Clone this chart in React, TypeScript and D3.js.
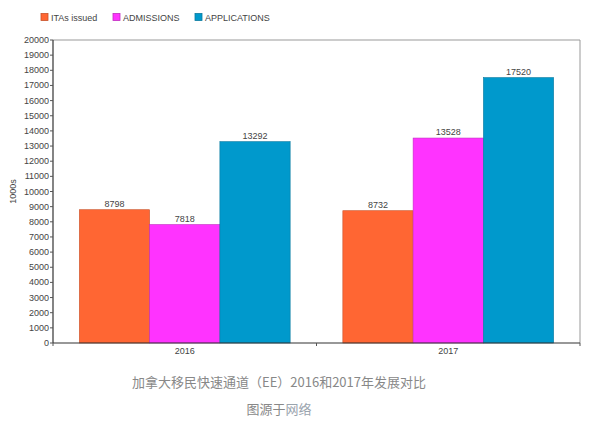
import React from "react";
import * as d3 from "d3";

const categories = ["2016", "2017"];
const seriesNames = ["ITAs issued", "ADMISSIONS", "APPLICATIONS"];
const itasIssued = [8798, 8732];
const admissions = [7818, 13528];
const applications = [13292, 17520];
const yTicks = d3.range(0, 20001, 1000);
const colors = ["#FF6633", "#FF33FF", "#0099CC"];
const strokes = ["#c8522a", "#c02cc0", "#0a7aa0"];

const W = 598;
const H = 429;
const left = 53;
const right = 580;
const top = 40;
const bottom = 343;

export default function App() {
  const series = [itasIssued, admissions, applications];
  const x = d3.scaleBand<string>().domain(categories).range([left, right]).padding(0);
  const groupW = x.bandwidth() * 0.8;
  const xs = d3.scaleBand<string>().domain(seriesNames).range([0, groupW]).padding(0);
  const y = d3.scaleLinear().domain([0, 20000]).range([bottom, top]);
  const font = "'Liberation Sans', Arial, sans-serif";
  const cjk = "'Noto Sans CJK SC', sans-serif";
  const legendX = [41, 113, 195];

  return (
    <svg width={W} height={H} style={{ position: "absolute", left: 0, top: 0, background: "#fff" }}>
      <rect x={0} y={0} width={W} height={H} fill="#fff" />
      {/* legend */}
      {seriesNames.map((s, i) => (
        <g key={s}>
          <rect x={legendX[i]} y={13.5} width={7} height={7} fill={colors[i]} stroke={strokes[i]} strokeWidth={0.8} />
          <text x={legendX[i] + 10} y={20.5} fontFamily={font} fontSize={9} fill="#444">{s}</text>
        </g>
      ))}
      {/* frame */}
      <line x1={left} x2={right} y1={top} y2={top} stroke="#999" strokeWidth={1} />
      <line x1={right} x2={right} y1={top} y2={bottom} stroke="#999" strokeWidth={1} />
      {/* bars */}
      {categories.map((c, ci) => {
        const gx = (x(c) as number) + (x.bandwidth() - groupW) / 2;
        return (
          <g key={c}>
            {series.map((vals, si) => {
              const bx = gx + (xs(seriesNames[si]) as number);
              const by = y(vals[ci]);
              return (
                <g key={si}>
                  <rect x={bx} y={by} width={xs.bandwidth()} height={bottom - by} fill={colors[si]} stroke={strokes[si]} strokeWidth={0.6} />
                  <text x={bx + xs.bandwidth() / 2} y={by - 3} textAnchor="middle" fontFamily={font} fontSize={9} fill="#444">{vals[ci]}</text>
                </g>
              );
            })}
            <text x={(x(c) as number) + x.bandwidth() / 2} y={354} textAnchor="middle" fontFamily={font} fontSize={9} fill="#444">{c}</text>
          </g>
        );
      })}
      {/* y axis */}
      <line x1={left} x2={left} y1={top} y2={bottom} stroke="#333" strokeWidth={1.2} />
      {yTicks.map((t) => (
        <g key={t}>
          <line x1={left - 3} x2={left} y1={y(t)} y2={y(t)} stroke="#555" strokeWidth={1} />
          <text x={left - 4} y={y(t) + 3} textAnchor="end" fontFamily={font} fontSize={9} fill="#444">{t}</text>
        </g>
      ))}
      {/* x axis */}
      <line x1={left} x2={right} y1={bottom} y2={bottom} stroke="#333" strokeWidth={1.2} />
      {[left, (x("2017") as number), right].map((t, i) => (
        <line key={i} x1={t} x2={t} y1={bottom} y2={bottom + 3} stroke="#555" strokeWidth={1} />
      ))}
      <text transform={`translate(16,${(top + bottom) / 2}) rotate(-90)`} textAnchor="middle" fontFamily={font} fontSize={9} fill="#444">1000s</text>
      {/* captions */}
      <text x={279} y={387} textAnchor="middle" fontFamily={cjk} fontSize={13} fill="#888">加拿大移民快速通道（EE）2016和2017年发展对比</text>
      <text x={279} y={414} textAnchor="middle" fontFamily={cjk} fontSize={13} fill="#888">
        图源于<tspan fill="#9aa4ae">网络</tspan>
      </text>
    </svg>
  );
}
